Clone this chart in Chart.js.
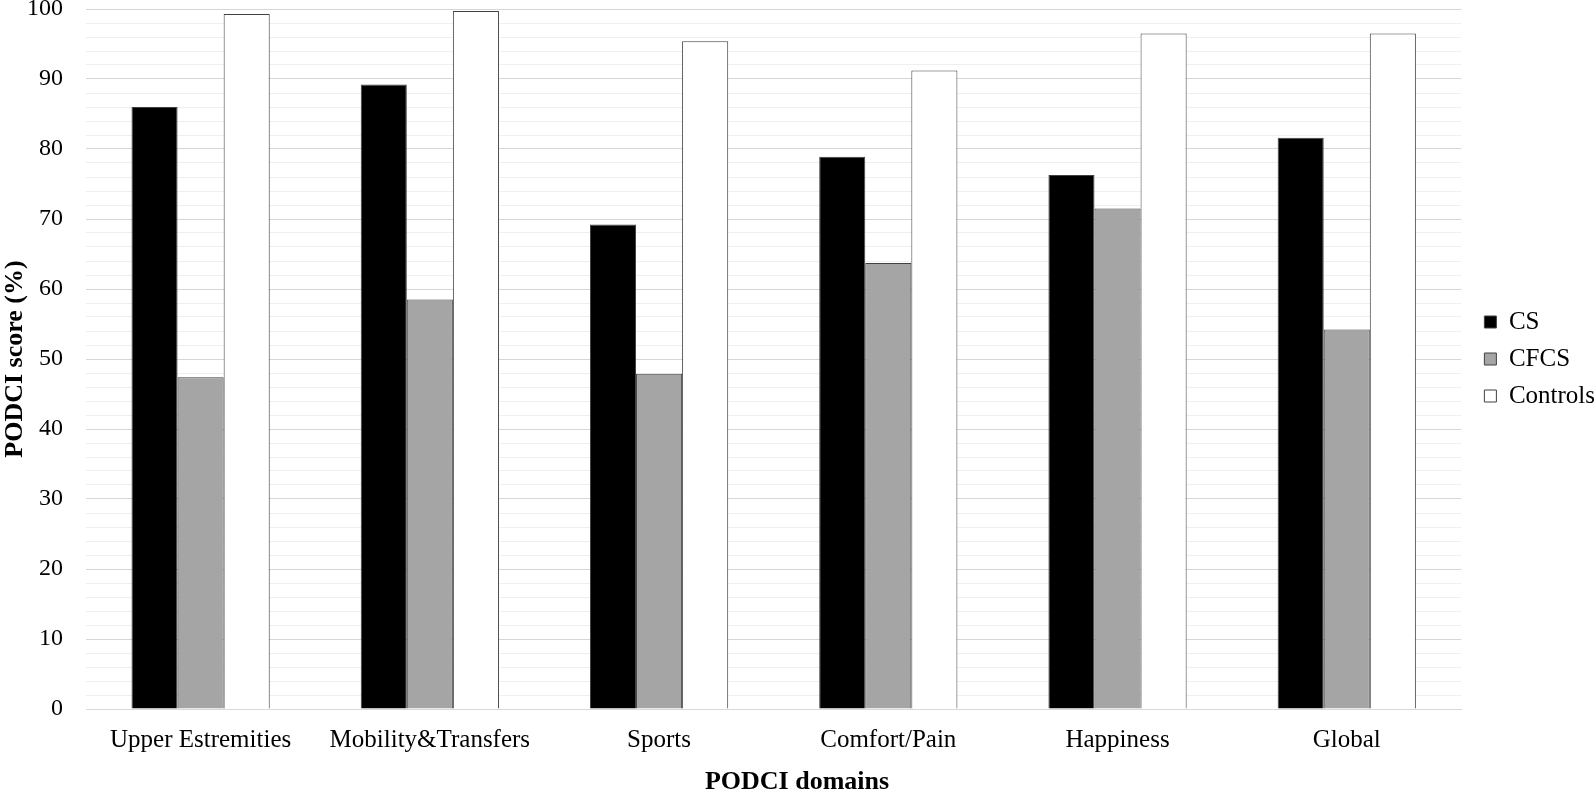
<!DOCTYPE html>
<html>
<head>
<meta charset="utf-8">
<script src="https://cdn.jsdelivr.net/npm/chart.js@4/dist/chart.umd.min.js"></script>
<style>
html,body{margin:0;padding:0;background:#fff;}
#wrap{width:1594px;height:791px;}
</style>
</head>
<body>
<div id="wrap"><canvas id="c" width="1594" height="791"></canvas></div>
<script>
const categories = ["Upper Estremities", "Mobility&Transfers", "Sports", "Comfort/Pain", "Happiness", "Global"];
const csValues = [86.0, 89.2, 69.2, 78.9, 76.3, 81.6];
const cfcsValues = [47.4, 58.5, 47.9, 63.7, 71.5, 54.2];
const controlsValues = [99.3, 99.7, 95.4, 91.2, 96.5, 96.5];
const seriesNames = ["CS", "CFCS", "Controls"];
const xAxisTitle = "PODCI domains";
const yAxisTitle = "PODCI score (%)";
const yTickMin = 0, yTickMax = 100, yMajorStep = 10, yMinorStep = 2;

const FONT = "'Liberation Serif', 'Times New Roman', serif";
Chart.defaults.font.family = FONT;
Chart.defaults.color = '#000';

// small layout helper: nudges the right-hand legend a little away from the plot
const legendNudge = {
  id: 'legendNudge',
  afterLayout(chart) {
    if (chart.legend) { chart.legend.left += 11; chart.legend.right += 11; }
  }
};

new Chart(document.getElementById('c'), {
  type: 'bar',
  data: {
    labels: categories,
    datasets: [
      {label: seriesNames[0], data: csValues, backgroundColor: '#000000', borderColor: '#404040', borderWidth: 1},
      {label: seriesNames[1], data: cfcsValues, backgroundColor: '#a5a5a5', borderColor: '#404040', borderWidth: 1},
      {label: seriesNames[2], data: controlsValues, backgroundColor: '#ffffff', borderColor: '#404040', borderWidth: 1}
    ]
  },
  plugins: [legendNudge],
  options: {
    responsive: false,
    animation: false,
    devicePixelRatio: 1,
    layout: {padding: {left: 0, right: 0, top: 0, bottom: -4}},
    datasets: {bar: {categoryPercentage: 0.603, barPercentage: 1.0}},
    plugins: {
      tooltip: {enabled: false},
      title: {
        display: true, position: 'bottom', text: xAxisTitle,
        font: {size: 26, weight: 'bold', family: FONT, lineHeight: 1}, color: '#000',
        padding: {top: 14, bottom: 0}
      },
      legend: {
        position: 'right',
        align: 'center',
        fullSize: false,
        labels: {
          boxWidth: 12, boxHeight: 12, padding: 12,
          font: {size: 25, family: FONT}, color: '#000'
        }
      }
    },
    scales: {
      x: {
        afterFit: s => { s.height = 46; s.paddingLeft = 0; s.paddingRight = 0; },
        grid: {display: false, drawTicks: false},
        border: {display: true, color: '#d9d9d9', width: 1},
        ticks: {font: {size: 25, family: FONT, lineHeight: 1.2}, color: '#000', padding: 16, maxRotation: 0}
      },
      y: {
        min: yTickMin, max: yTickMax,
        afterFit: s => { s.paddingTop = 9; s.width = 86; },
        grid: {
          drawTicks: false,
          color: ctx => (ctx.tick && ctx.tick.value % yMajorStep === 0) ? '#d6d6d6' : '#efefef',
          lineWidth: 1
        },
        border: {display: false},
        ticks: {
          stepSize: yMinorStep, autoSkip: false,
          font: {size: 24, family: FONT}, color: '#000', padding: 23,
          callback: v => (v % yMajorStep === 0) ? String(v) : ''
        },
        title: {display: true, text: yAxisTitle, font: {size: 26, weight: 'bold', family: FONT, lineHeight: 1}, color: '#000', padding: {top: 2, bottom: 0}}
      }
    }
  }
});
</script>
</body>
</html>
